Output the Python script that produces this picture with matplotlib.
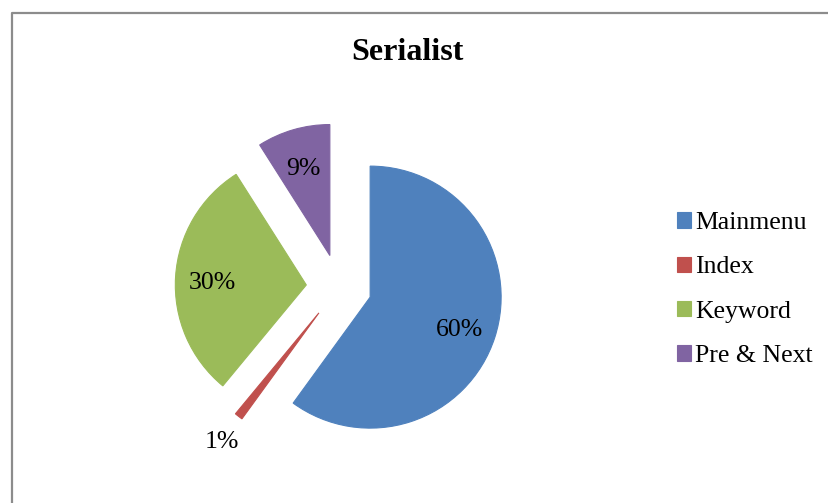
import numpy as np
import matplotlib.pyplot as plt
from matplotlib.lines import Line2D

# Serialist usage shares
categories = ["Mainmenu", "Index", "Keyword", "Pre & Next"]
shares = [60, 1, 30, 9]
pct_labels = ["60%", "1%", "30%", "9%"]
colors = ["#4F81BD", "#C0504D", "#9BBB59", "#8064A2"]

W, H = 829, 503
R_PX = 131.0          # pie radius in pixels
CX, CY = 339, 287     # pie centre (pixels, from top-left)

plt.rcParams["font.family"] = ["Liberation Serif", "DejaVu Serif"]

fig = plt.figure(figsize=(W / 100, H / 100), dpi=100)
ax = fig.add_axes([0, 0, 1, 1])

wedges, _ = ax.pie(
    shares,
    colors=colors,
    startangle=90,
    counterclock=False,
    explode=[0.25] * len(shares),
    radius=1.0,
    wedgeprops=dict(linewidth=0.8),
)
for w, c in zip(wedges, colors):
    w.set_edgecolor(c)

# percentage labels along each wedge's mid angle
for i, w in enumerate(wedges):
    mid = np.deg2rad((w.theta1 + w.theta2) / 2)
    ox, oy = 0.25 * np.cos(mid), 0.25 * np.sin(mid)
    dist = 1.21 if shares[i] < 5 else 0.72
    ax.text(ox + dist * np.cos(mid), oy + dist * np.sin(mid) - 0.03, pct_labels[i],
            ha="center", va="center", fontsize=18.5, color="black")

ax.set_aspect("auto")
ax.set_xlim(-CX / R_PX, (W - CX) / R_PX)
ax.set_ylim(-(H - CY) / R_PX, CY / R_PX)
ax.axis("off")

fig.text(407 / W, 1 - 53 / H, "Serialist", ha="center", va="center",
         fontsize=23, fontweight="bold")

leg = fig.legend(wedges, categories, loc="upper left",
                 bbox_to_anchor=(677 / W, 1 - 212 / H),
                 frameon=False, fontsize=18.5, handlelength=0.55, handleheight=0.55,
                 handletextpad=0.15, labelspacing=0.87, borderpad=0, borderaxespad=0)

# chart area border (left and top edges visible)
fig.add_artist(Line2D([12.5 / W, 12.5 / W, 1], [0, 1 - 13 / H, 1 - 13 / H],
                      color="#8c8c8c", linewidth=1.6))

fig.savefig("out.png", dpi=100)
